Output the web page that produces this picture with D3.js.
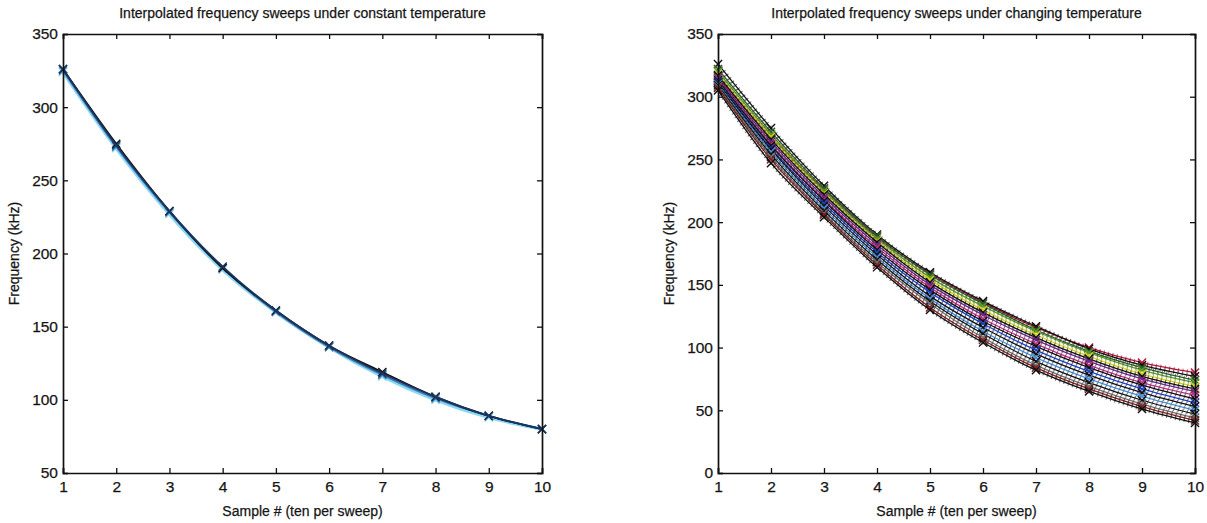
<!DOCTYPE html>
<html>
<head>
<meta charset="utf-8">
<script src="https://cdn.jsdelivr.net/npm/d3@7"></script>
<style>
  html, body { margin: 0; padding: 0; background: #fff; }
  svg { display: block; font-family: "Liberation Sans", Arial, sans-serif; }
  text { stroke: #222; stroke-width: 0.25px; }
</style>
</head>
<body>
<svg id="chart" width="1207" height="523"></svg>
<script>
// sample index 1..10 (ten per sweep)
const samples = [1, 2, 3, 4, 5, 6, 7, 8, 9, 10]

// constant temperature: sweeps lie on top of each other (light ones drawn first)
const constColors = ['#8ad8f5', '#3b7bb5', '#111111', '#1c3560']
const constValues = [
    [324, 272, 227, 189, 160, 136, 116, 100, 88, 80],
    [325, 273, 228, 190, 160, 136, 117, 101, 89, 80],
    [326, 275, 229, 190, 161, 137, 119, 102, 89, 80],
    [326, 274, 229, 191, 161, 137, 118, 102, 89, 80],
]

// changing temperature: sweeps spread out towards the end
const changeColors = ['#c0143c', '#111111', '#2e5e2e', '#5a9a2a', '#d2d21e', '#111111', '#6a2a8a', '#c03080',
                      '#111111', '#2040c0', '#111111', '#4a90d8', '#111111', '#707070', '#802020', '#111111']
const changeValues = [
    [316, 268, 226, 188, 159, 136, 116, 100, 88, 80],
    [326, 275, 229, 190, 160, 137, 117, 99, 86, 77],
    [322, 272, 227, 189, 158, 135, 114, 97, 84, 74],
    [320, 270, 225, 187, 156, 133, 113, 96, 82, 72],
    [318, 268, 223, 185, 154, 130, 110, 93, 79, 69],
    [317, 266, 222, 184, 152, 128, 108, 91, 77, 67],
    [315, 264, 220, 182, 150, 126, 106, 89, 75, 65],
    [314, 262, 218, 180, 148, 123, 103, 86, 72, 62],
    [313, 261, 217, 178, 146, 121, 101, 84, 70, 59],
    [312, 259, 215, 176, 144, 119, 98, 81, 67, 56],
    [311, 258, 213, 174, 141, 116, 95, 78, 64, 53],
    [310, 256, 211, 172, 139, 113, 92, 75, 61, 50],
    [309, 254, 209, 170, 137, 111, 89, 72, 58, 47],
    [308, 252, 207, 168, 135, 108, 86, 69, 55, 44],
    [307, 250, 206, 166, 132, 106, 84, 67, 53, 42],
    [305, 247, 204, 164, 130, 104, 82, 65, 51, 40],
]

const leftYTicks = [50, 100, 150, 200, 250, 300, 350]
const rightYTicks = [0, 50, 100, 150, 200, 250, 300, 350]

const svg = d3.select('#chart')

function drawPanel(opt) {
    const { left, right, top, bottom, yDomain, yTicks, title, colors, values, hatch } = opt
    const x = d3.scaleLinear().domain([1, 10]).range([left, right])
    const y = d3.scaleLinear().domain(yDomain).range([bottom, top])
    const g = svg.append('g')

    // 曲线
    const line = d3.line()
                   .x((d, i) => x(samples[i]))
                   .y(d => y(d))
                   .curve(d3.curveMonotoneX)
    const marker = d3.symbol().type(d3.symbolTimes || d3.symbolCross).size(45)
    values.forEach((vals, k) => {
        const s = g.append('g')
        s.append('path')
         .attr('d', line(vals))
         .attr('fill', 'none')
         .attr('stroke', colors[k])
         .attr('stroke-width', hatch ? 1.3 : (k === 0 ? 3.5 : 1.8))
        if (hatch) { // small interpolation markers along the line
            s.append('path')
             .attr('d', line(vals))
             .attr('fill', 'none')
             .attr('stroke', d3.color(colors[k]).darker(1.2))
             .attr('stroke-width', 4)
             .attr('stroke-dasharray', '1 3.5')
             .attr('opacity', 0.6)
        }
        s.selectAll('.mk')
         .data(vals)
         .join('path')
         .attr('d', marker)
         .attr('transform', (d, i) => `translate(${x(samples[i])},${y(d)})`)
         .attr('fill', 'none')
         .attr('stroke', colors[k])
         .attr('stroke-width', 1.4)
    })

    // 坐标轴 (ticks inside, like matlab)
    const tl = 5
    g.append('g').attr('transform', `translate(0,${bottom})`)
     .call(d3.axisBottom(x).tickValues(samples).tickSize(-tl).tickPadding(8).tickFormat(d3.format('d')))
    g.append('g').attr('transform', `translate(0,${top})`)
     .call(d3.axisTop(x).tickValues(samples).tickSize(-tl).tickFormat(''))
    g.append('g').attr('transform', `translate(${left},0)`)
     .call(d3.axisLeft(y).tickValues(yTicks).tickSize(-tl).tickPadding(5))
    g.append('g').attr('transform', `translate(${right},0)`)
     .call(d3.axisRight(y).tickValues(yTicks).tickSize(-tl).tickFormat(''))
    g.selectAll('.domain').attr('stroke', '#111').attr('stroke-width', 1.7)
    g.selectAll('.tick line').attr('stroke', '#111').attr('stroke-width', 1.3)
    g.selectAll('.tick text').attr('font-size', 15.5).attr('fill', '#111')
     .attr('font-family', '"Liberation Sans", Arial, sans-serif')

    // 标题和轴标签
    g.append('text')
     .attr('x', (left + right) / 2).attr('y', 18)
     .attr('text-anchor', 'middle').attr('font-size', 14).attr('fill', '#111')
     .text(title)
    g.append('text')
     .attr('x', (left + right) / 2).attr('y', 516)
     .attr('text-anchor', 'middle').attr('font-size', 14).attr('fill', '#111')
     .text('Sample # (ten per sweep)')
    g.append('text')
     .attr('transform', `translate(${left - 44},${(top + bottom) / 2}) rotate(-90)`)
     .attr('text-anchor', 'middle').attr('font-size', 14).attr('fill', '#111')
     .text('Frequency (kHz)')
}

drawPanel({
    left: 63, right: 542, top: 34, bottom: 473,
    yDomain: [50, 350], yTicks: leftYTicks,
    title: 'Interpolated frequency sweeps under constant temperature',
    colors: constColors, values: constValues, hatch: false,
})

drawPanel({
    left: 718, right: 1195, top: 34, bottom: 473,
    yDomain: [0, 350], yTicks: rightYTicks,
    title: 'Interpolated frequency sweeps under changing temperature',
    colors: changeColors, values: changeValues, hatch: true,
})
</script>
</body>
</html>
